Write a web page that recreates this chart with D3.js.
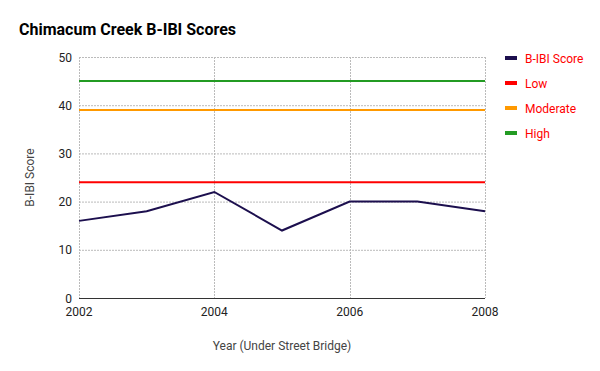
<!DOCTYPE html>
<html><head><meta charset="utf-8">
<script src="https://cdn.jsdelivr.net/npm/d3@7"></script>
<style>body{margin:0;background:#fff}</style>
</head><body><svg id="c" width="600" height="371"></svg>
<script>
const years = [2002, 2003, 2004, 2005, 2006, 2007, 2008];
const scores = [16, 18, 22, 14, 20, 20, 18];
const lowVal = 24, moderateVal = 39, highVal = 45;
const xTicks = [2002, 2004, 2006, 2008];
const yTicks = [0, 10, 20, 30, 40, 50];
const seriesNames = ["B-IBI Score", "Low", "Moderate", "High"];
const seriesColors = ["#1c0f4e", "#ff0000", "#ff9900", "#239b23"];

const svg = d3.select("#c");
const font = "Roboto, sans-serif";
const m = {l: 79, r: 485, t: 57, b: 298};
const x = d3.scaleLinear().domain([2002, 2008]).range([m.l, m.r]);
const y = d3.scaleLinear().domain([0, 50]).range([m.b, m.t]);

svg.append("rect").attr("width",600).attr("height",371).attr("fill","#fff");

// grid
const g = svg.append("g");
g.selectAll("line.h").data(yTicks.filter(d=>d>0)).join("line")
  .attr("x1", m.l).attr("x2", m.r).attr("y1", d=>y(d)+0.5).attr("y2", d=>y(d)+0.5)
  .attr("stroke", "#bbb").attr("stroke-width", 1).attr("stroke-dasharray","2,1");
g.selectAll("line.v").data(xTicks).join("line")
  .attr("y1", m.t).attr("y2", m.b).attr("x1", d=>Math.round(x(d))+0.5).attr("x2", d=>Math.round(x(d))+0.5)
  .attr("stroke", "#bbb").attr("stroke-width", 1).attr("stroke-dasharray","2,1");

// baseline
svg.append("line").attr("x1", m.l).attr("x2", m.r).attr("y1", y(0)+0.5).attr("y2", y(0)+0.5)
  .attr("stroke", "#333").attr("stroke-width", 1);

// axes labels
svg.selectAll("text.yt").data(yTicks).join("text")
  .attr("x", 72).attr("y", d=>y(d)+4.5).attr("text-anchor","end")
  .attr("font-family", font).attr("font-size", 12).attr("fill", "#222").text(d=>d);
svg.selectAll("text.xt").data(xTicks).join("text")
  .attr("x", d=>x(d)).attr("y", 316).attr("text-anchor","middle")
  .attr("font-family", font).attr("font-size", 12).attr("fill", "#222").text(d=>d);

// threshold lines
const thresholds = [lowVal, moderateVal, highVal];
svg.selectAll("line.th").data(thresholds).join("line")
  .attr("x1", x(2002)).attr("x2", x(2008)).attr("y1", d=>y(d)).attr("y2", d=>y(d))
  .attr("stroke", (d,i)=>seriesColors[i+1]).attr("stroke-width", 2);

// score line
const line = d3.line().x((d,i)=>x(years[i])).y(d=>y(d));
svg.append("path").datum(scores).attr("d", line).attr("fill","none")
  .attr("stroke", seriesColors[0]).attr("stroke-width", 2).attr("stroke-linejoin","miter");

// title
svg.append("text").attr("x", 19).attr("y", 35).attr("font-family", font)
  .attr("font-weight", "bold").attr("font-size", 16).attr("fill", "#000")
  .text("Chimacum Creek B-IBI Scores");

// axis titles
svg.append("text").attr("x", (m.l+m.r)/2).attr("y", 350).attr("text-anchor","middle")
  .attr("font-family", font).attr("font-size", 12).attr("fill", "#444")
  .text("Year (Under Street Bridge)");
svg.append("text").attr("transform", `translate(34,${(m.t+m.b)/2}) rotate(-90)`)
  .attr("text-anchor","middle").attr("font-family", font).attr("font-size", 12).attr("fill", "#444")
  .text("B-IBI Score");

// legend
const lg = svg.selectAll("g.lg").data(seriesNames).join("g")
  .attr("transform", (d,i)=>`translate(505,${58 + i*25})`);
lg.append("rect").attr("x", 0).attr("y", -2).attr("width", 12).attr("height", 4)
  .attr("fill", (d,i)=>seriesColors[i]);
lg.append("text").attr("x", 20).attr("y", 4.5).attr("font-family", font)
  .attr("font-size", 12).attr("fill", "#ff0000").text(d=>d);
</script></body></html>
